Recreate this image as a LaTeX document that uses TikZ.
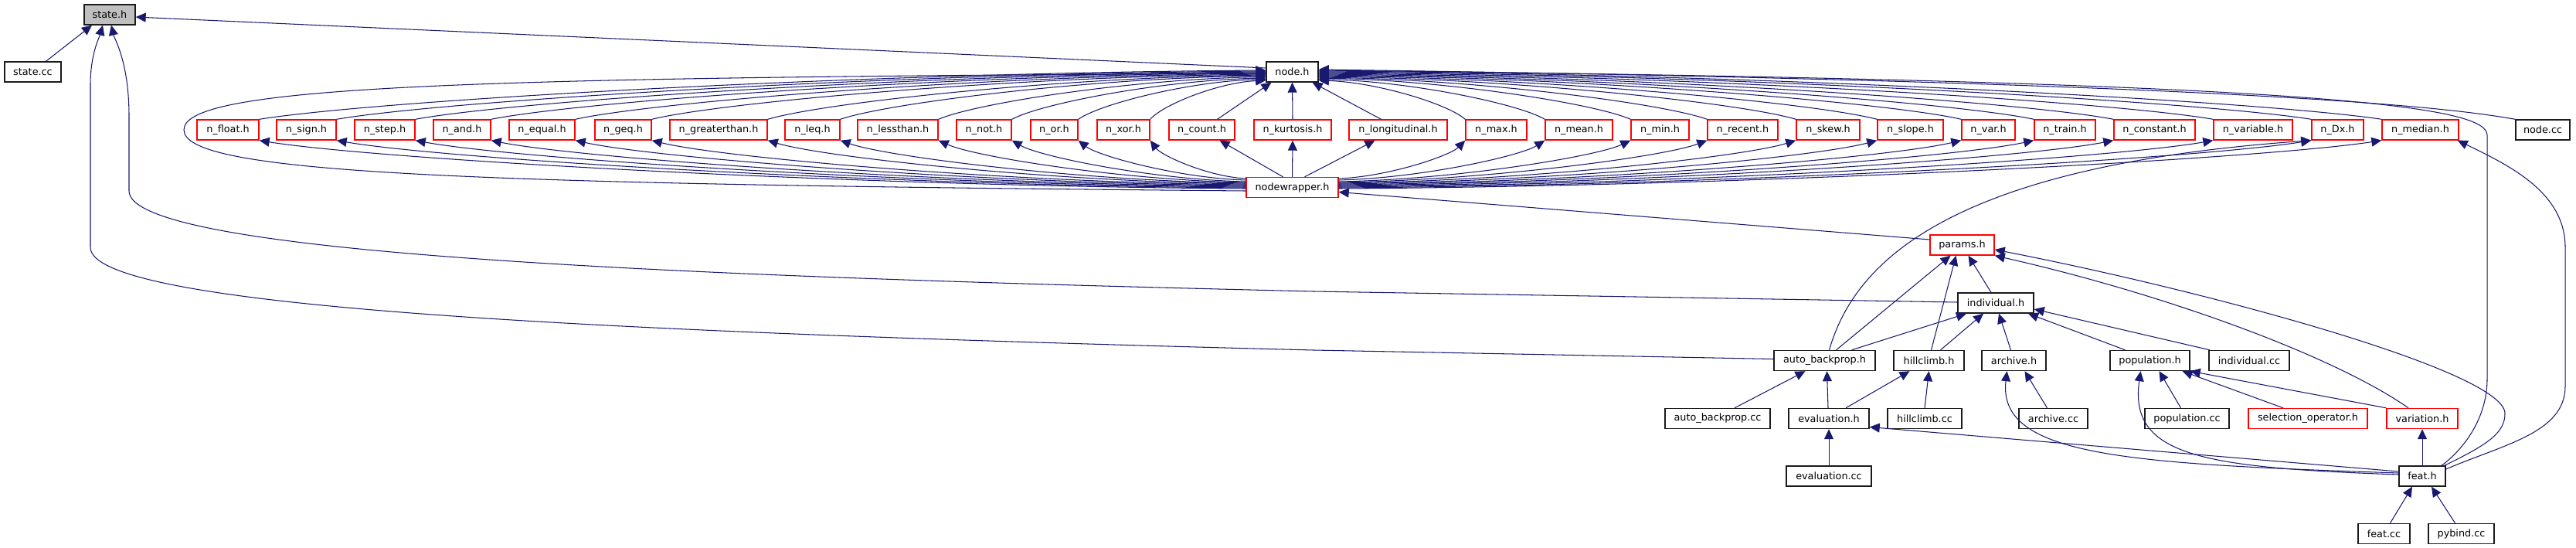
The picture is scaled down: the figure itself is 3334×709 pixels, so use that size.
\documentclass[tikz,border=0pt]{standalone}
\usepackage{fontspec}
\setmainfont{DejaVu Sans}
\usetikzlibrary{arrows.meta}
\definecolor{edgec}{HTML}{191970}
\definecolor{boxgrey}{HTML}{BFBFBF}
\definecolor{boxred}{HTML}{FF0000}
\definecolor{boxblack}{HTML}{1A1A1A}
\begin{document}
\begin{tikzpicture}[x=1pt,y=1pt,
  nb/.style={draw=boxblack, line width=1.4pt, fill=white, minimum height=26pt, inner sep=0pt, font=\fontsize{12.8}{15}\selectfont},
  rb/.style={nb, draw=boxred},
  gb/.style={nb, fill=boxgrey},
  edge/.style={draw=edgec, line width=1.05pt, -{Triangle[length=13pt,width=12pt]}}]
\useasboundingbox (0,0) rectangle (3334,-709);

% ---- nodes ----
\node[gb, minimum width=66] (stateh) at (142,-19) {state.h};
\node[nb, minimum width=73] (statecc) at (42.5,-93) {state.cc};
\node[nb, minimum width=67] (nodeh) at (1672.5,-93) {node.h};
\foreach \nm/\cx/\w/\t in {
  nfloat/295/80/n\_float.h, nsign/396.5/77/n\_sign.h, nstep/498/78/n\_step.h,
  nand/598/74/n\_and.h, nequal/701.5/85/n\_equal.h, ngeq/806.5/73/n\_geq.h,
  ngreaterthan/930/126/n\_greaterthan.h, nleq/1051.5/71/n\_leq.h,
  nlessthan/1162/104/n\_lessthan.h, nnot/1273.5/71/n\_not.h, nor/1364.5/61/n\_or.h,
  nxor/1454/68/n\_xor.h, ncount/1555.5/85/n\_count.h, nkurtosis/1673/100/n\_kurtosis.h,
  nlongitudinal/1809.5/127/n\_longitudinal.h, nmax/1936.5/79/n\_max.h,
  nmean/2043.5/87/n\_mean.h, nmin/2148.5/75/n\_min.h, nrecent/2255.5/91/n\_recent.h,
  nskew/2366/82/n\_skew.h, nslope/2472.5/85/n\_slope.h, nvar/2573.5/69/n\_var.h,
  ntrain/2672.5/79/n\_train.h, nconstant/2788.5/105/n\_constant.h,
  nvariable/2916/102/n\_variable.h, nDx/3025.5/67/n\_Dx.h, nmedian/3132.5/99/n\_median.h}
  { \node[rb, minimum width=\w] (\nm) at (\cx,-168) {\t}; }
\node[nb, minimum width=70] (nodecc) at (3291,-168) {node.cc};
\node[rb, minimum width=119] (nodewrapper) at (1672.5,-242.5) {nodewrapper.h};
\node[rb, minimum width=83] (params) at (2539.5,-317) {params.h};
\node[nb, minimum width=98] (individual) at (2583,-392) {individual.h};
\node[nb, minimum width=131] (autobackprop) at (2361.5,-466.5) {auto\_backprop.h};
\node[nb, minimum width=91] (hillclimb) at (2496.5,-466.5) {hillclimb.h};
\node[nb, minimum width=83] (archive) at (2606.5,-466.5) {archive.h};
\node[nb, minimum width=103] (population) at (2782.5,-466.5) {population.h};
\node[nb, minimum width=104] (individualcc) at (2911,-466.5) {individual.cc};
\node[nb, minimum width=136] (autobackpropcc) at (2223,-541.5) {auto\_backprop.cc};
\node[nb, minimum width=104] (evaluation) at (2367,-541.5) {evaluation.h};
\node[nb, minimum width=96] (hillclimbcc) at (2491,-541.5) {hillclimb.cc};
\node[nb, minimum width=89] (archivecc) at (2657.5,-541.5) {archive.cc};
\node[nb, minimum width=109] (populationcc) at (2830.5,-541.5) {population.cc};
\node[rb, minimum width=154] (selection) at (2987,-541.5) {selection\_operator.h};
\node[rb, minimum width=92] (variation) at (3135,-541.5) {variation.h};
\node[nb, minimum width=110] (evaluationcc) at (2367,-616) {evaluation.cc};
\node[nb, minimum width=60] (feat) at (3135,-616) {feat.h};
\node[nb, minimum width=67] (featcc) at (3085.5,-690.5) {feat.cc};
\node[nb, minimum width=85] (pybind) at (3185.5,-690.5) {pybind.cc};

% ---- state.h ----
\draw[edge] ([xshift=17]statecc.north) -- ([xshift=-23]stateh.south);
\draw[edge] ([yshift=5]nodeh.west) -- ([yshift=-3]stateh.east);
\draw[edge] ([yshift=1]individual.west) -- (1700,-377) .. controls (900,-358) and (167,-330) .. (167,-247) -- (167,-150) .. controls (167,-80) and (148,-50) .. ([xshift=2]stateh.south);
\draw[edge] ([yshift=2]autobackprop.west) -- (1700,-453) .. controls (800,-430) and (117,-400) .. (117,-320) -- (117,-110) .. controls (117,-70) and (128,-50) .. ([xshift=-9]stateh.south);

% ---- left fan ----
\foreach \n/\xs/\ye/\ys in {nfloat/335/91/244, nsign/435/92/243, nstep/537/93/242,
  nand/635/94/241, nequal/744/95/240, ngeq/843/96/239, ngreaterthan/993/97/238,
  nleq/1087/98/237, nlessthan/1214/99.5/236, nnot/1309/101/235, nor/1395/102.5/233,
  nxor/1488/104/231}{
  \pgfmathsetmacro\dx{1639-\xs}
  \pgfmathsetmacro\dyu{155-\ye}
  \pgfmathsetmacro\cax{\xs+0.12*\dx}
  \pgfmathsetmacro\cay{-155+0.4*\dyu}
  \pgfmathsetmacro\cbx{1639-0.4*\dx}
  \pgfmathsetmacro\cby{-\ye-0.05*\dyu}
  \draw[edge] (\n.north east) .. controls (\cax,\cay) and (\cbx,\cby) .. ([yshift={93-\ye}]nodeh.west);
  \pgfmathsetmacro\ddx{1613-\xs}
  \pgfmathsetmacro\dyd{\ys-181}
  \pgfmathsetmacro\dax{1613-0.4*\ddx}
  \pgfmathsetmacro\day{-\ys+0.05*\dyd}
  \pgfmathsetmacro\dbx{\xs+0.12*\ddx}
  \pgfmathsetmacro\dby{-181-0.4*\dyd}
  \draw[edge] ([yshift={242.5-\ys}]nodewrapper.west) .. controls (\dax,\day) and (\dbx,\dby) .. (\n.south east);
}
% ---- right fan ----
\foreach \n/\xs/\ye/\ys in {nmax/1897/104/231, nmean/2000/102.5/233, nmin/2111/101/235,
  nrecent/2210/100/236, nskew/2325/99/237, nslope/2430/98/238, nvar/2539/97/239,
  ntrain/2633/96/240, nconstant/2736/95/241, nvariable/2865/94/242, nDx/2992/93/243,
  nmedian/3083/92/244}{
  \pgfmathsetmacro\dx{\xs-1706}
  \pgfmathsetmacro\dyu{155-\ye}
  \pgfmathsetmacro\cax{\xs-0.12*\dx}
  \pgfmathsetmacro\cay{-155+0.4*\dyu}
  \pgfmathsetmacro\cbx{1706+0.4*\dx}
  \pgfmathsetmacro\cby{-\ye-0.05*\dyu}
  \draw[edge] (\n.north west) .. controls (\cax,\cay) and (\cbx,\cby) .. ([yshift={93-\ye}]nodeh.east);
  \pgfmathsetmacro\ddx{\xs-1732}
  \pgfmathsetmacro\dyd{\ys-181}
  \pgfmathsetmacro\dax{1732+0.4*\ddx}
  \pgfmathsetmacro\day{-\ys+0.05*\dyd}
  \pgfmathsetmacro\dbx{\xs-0.12*\ddx}
  \pgfmathsetmacro\dby{-181-0.4*\dyd}
  \draw[edge] ([yshift={242.5-\ys}]nodewrapper.east) .. controls (\dax,\day) and (\dbx,\dby) .. (\n.south west);
}
% ---- central ----
\draw[edge] ([xshift=20]ncount.north) -- ([xshift=-27]nodeh.south);
\draw[edge] ([xshift=-12]nodewrapper.north) -- ([xshift=23]ncount.south);
\draw[edge] (nkurtosis.north) -- (nodeh.south);
\draw[edge] (nodewrapper.north) -- (nkurtosis.south);
\draw[edge] ([xshift=-22]nlongitudinal.north) -- ([xshift=26]nodeh.south);
\draw[edge] ([xshift=16]nodewrapper.north) -- ([xshift=-30]nlongitudinal.south);
% loop nodewrapper -> node.h
\draw[edge] ([yshift=-4.5]nodewrapper.west) .. controls (600,-238) and (238,-225) .. (238,-168) .. controls (238,-111) and (600,-100) .. ([yshift=-2]nodeh.west);
% node.cc, feat -> node.h
\draw[edge] (nodecc.north west) .. controls (3200,-145) and (3000,-108) .. ([yshift=3]nodeh.east);
\draw[edge] ([xshift=25]feat.north) .. controls (3190,-580) and (3219,-540) .. (3219,-490) -- (3219,-175) .. controls (3219,-140) and (3050,-105) .. ([yshift=2]nodeh.east);
% feat -> n_median
\draw[edge] ([yshift=9]feat.east) .. controls (3240,-575) and (3320,-560) .. (3320,-500) -- (3320,-320) .. controls (3320,-250) and (3250,-215) .. ([xshift=-2]nmedian.south east);
% auto_backprop -> n_Dx
\draw[edge] ([xshift=6]autobackprop.north) .. controls (2400,-340) and (2520,-215) .. (nDx.south west);
% params -> nodewrapper
\draw[edge] ([yshift=7]params.west) -- ([yshift=-6]nodewrapper.east);
% params incoming
\draw[edge] ([xshift=-2]feat.north east) .. controls (3220,-575) and (3242,-560) .. (3242,-535) .. controls (3242,-480) and (2850,-375) .. ([yshift=-6]params.east);
\draw[edge] ([xshift=-18]variation.north) .. controls (3020,-460) and (2800,-380) .. (params.south east);
\draw[edge] ([xshift=15]autobackprop.north) -- ([xshift=-15]params.south);
\draw[edge] ([xshift=3]hillclimb.north) -- ([xshift=-8]params.south);
\draw[edge] ([xshift=-6]individual.north) -- ([xshift=8]params.south);
% individual incoming
\draw[edge] ([xshift=35]autobackprop.north) -- ([xshift=-38]individual.south);
\draw[edge] ([xshift=15]hillclimb.north) -- ([xshift=-16]individual.south);
\draw[edge] ([xshift=-4]archive.north) -- ([xshift=4]individual.south);
\draw[edge] ([xshift=-32]population.north) -- ([xshift=42]individual.south);
\draw[edge] ([xshift=-51]individualcc.north) -- ([yshift=-8]individual.east);
% lower rows
\draw[edge] ([xshift=22]autobackpropcc.north) -- ([xshift=-25]autobackprop.south);
\draw[edge] ([xshift=-1]evaluation.north) -- ([xshift=3]autobackprop.south);
\draw[edge] ([xshift=22]evaluation.north) -- ([xshift=-25]hillclimb.south);
\draw[edge] (hillclimbcc.north) -- (hillclimb.south);
\draw[edge] (evaluationcc.north) -- (evaluation.south);
\draw[edge] ([xshift=-8]archivecc.north) -- ([xshift=14]archive.south);
\draw[edge] ([xshift=-8]populationcc.north) -- ([xshift=12]population.south);
\draw[edge] ([xshift=-32]selection.north) -- ([xshift=42]population.south);
\draw[edge] (variation.north west) -- (population.south east);
\draw[edge] ([yshift=2]feat.west) .. controls (2850,-605) and (2755,-590) .. ([xshift=-12]population.south);
\draw[edge] ([yshift=4]feat.west) .. controls (2750,-600) and (2585,-590) .. ([xshift=-9]archive.south);
\draw[edge] ([yshift=6]feat.west) -- ([yshift=-11]evaluation.east);
\draw[edge] (feat.north) -- (variation.south);
\draw[edge] ([xshift=8]featcc.north) -- ([xshift=-13]feat.south);
\draw[edge] ([xshift=-8]pybind.north) -- ([xshift=12]feat.south);
\end{tikzpicture}
\end{document}
